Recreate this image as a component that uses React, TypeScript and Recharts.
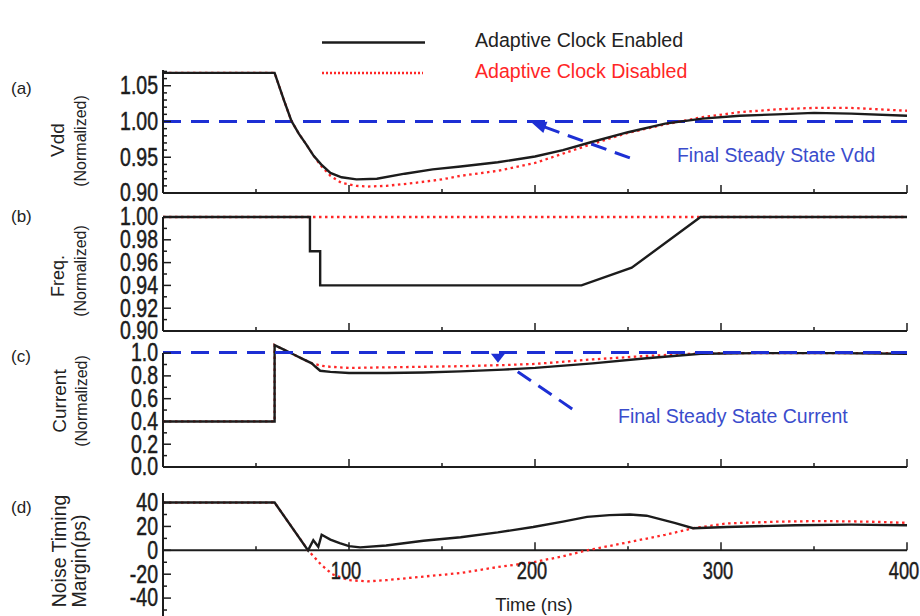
import React from "react";
import { LineChart, Line, XAxis, YAxis, ReferenceLine } from "recharts";

const INK = "#1c1c1c";
const RED = "#ff2626";
const BLUE = "#1d2fd4";
const NOTE = "#3a4ccc";
const FONT = "'Liberation Sans', Arial, sans-serif";

// shared time axis (ns)
const timeTicks = [50, 100, 150, 200, 250, 300, 350, 400];
const timeMajor = [100, 200, 300, 400];

// (a) Vdd (normalized)
const vddOnT = [0, 60, 65, 69, 73, 77, 81, 85, 90, 96, 104, 115, 130, 145, 160, 180, 200, 215, 230, 250, 270, 290, 310, 330, 350, 370, 400];
const vddOn = [1.068, 1.068, 1.03, 1.001, 0.983, 0.968, 0.952, 0.94, 0.928, 0.922, 0.919, 0.92, 0.927, 0.933, 0.937, 0.943, 0.951, 0.96, 0.971, 0.985, 0.997, 1.004, 1.008, 1.01, 1.012, 1.011, 1.008];
const vddOffT = [0, 60, 65, 69, 73, 77, 81, 85, 90, 96, 104, 110, 120, 135, 150, 160, 180, 200, 215, 230, 250, 270, 290, 310, 330, 350, 370, 400];
const vddOff = [1.068, 1.068, 1.03, 1.001, 0.983, 0.968, 0.952, 0.938, 0.924, 0.914, 0.91, 0.909, 0.91, 0.914, 0.919, 0.924, 0.931, 0.942, 0.955, 0.968, 0.984, 0.996, 1.006, 1.013, 1.017, 1.019, 1.019, 1.015];
const vddSteady = 1.0;
const vddArrowT = [251, 199];
const vddArrowV = [0.949, 0.998];
const vddMajor = [0.9, 0.95, 1.0, 1.05];
const vddMinor = [0.91, 0.92, 0.93, 0.94, 0.96, 0.97, 0.98, 0.99, 1.01, 1.02, 1.03, 1.04, 1.06, 1.07];

// (b) frequency (normalized)
const freqOnT = [0, 79, 79, 84.5, 84.5, 225, 252, 289, 400];
const freqOn = [1, 1, 0.97, 0.97, 0.94, 0.94, 0.9555, 1, 1];
const freqOffT = [0, 400];
const freqOff = [1, 1];
const freqMajor = [0.9, 0.92, 0.94, 0.96, 0.98, 1.0];
const freqMinor = [0.91, 0.93, 0.95, 0.97, 0.99];

// (c) current (normalized)
const curOnT = [0, 60, 60, 65, 70, 75, 80, 82, 84.5, 90, 100, 120, 140, 160, 183, 200, 231, 260, 289, 320, 360, 400];
const curOn = [0.4, 0.4, 1.07, 1.03, 0.99, 0.95, 0.91, 0.88, 0.845, 0.835, 0.825, 0.825, 0.83, 0.84, 0.855, 0.87, 0.91, 0.955, 0.995, 1.0, 1.0, 0.995];
const curOffT = [0, 60, 60, 65, 70, 75, 80, 85, 90, 100, 120, 140, 160, 183, 200, 231, 260, 289, 320, 360, 400];
const curOff = [0.4, 0.4, 1.07, 1.03, 0.99, 0.95, 0.91, 0.89, 0.88, 0.87, 0.875, 0.88, 0.885, 0.895, 0.905, 0.945, 0.975, 0.998, 1.0, 1.0, 1.0];
const curSteady = 1.005;
const curArrowT = [220, 186];
const curArrowV = [0.51, 0.89];
const curMajor = [0, 0.2, 0.4, 0.6, 0.8, 1.0];
const curMinor = [0.1, 0.3, 0.5, 0.7, 0.9];

// (d) noise timing margin (ps)
const nmOnT = [0, 60, 78, 80.8, 83.5, 85.3, 90, 95, 100, 106, 120, 140, 160, 180, 199, 215, 228, 240, 251, 260, 275, 285, 303, 340, 370, 400];
const nmOn = [40, 40, 0, 8.5, 3, 13, 9, 6, 3.5, 2.5, 4, 8, 11, 15, 19.5, 24, 28, 29.5, 30, 29, 23, 18.5, 19.5, 21, 21.5, 21];
const nmOffT = [0, 60, 78, 85, 91, 100, 110, 120, 140, 160, 180, 199, 215, 228, 251, 270, 285, 303, 330, 353, 380, 400];
const nmOff = [40, 40, 0, -12, -20, -25, -26, -25, -22, -19, -14, -10, -5, 0, 7, 13, 18.5, 22.5, 24, 24.5, 24, 23];
const nmMajor = [-40, -20, 0, 20, 40];
const nmMinor = [-50, -30, -10, 10, 30];

const zip = (t: number[], v: number[]) => t.map((x, i) => ({ t: x, v: v[i] }));

const PAD = 18;
const margin = { top: PAD, right: 13, bottom: PAD - 1, left: 162 };

const has = (list: number[], v: number) => list.some((m) => Math.abs(m - v) < 1e-9);

const tickText = { fontFamily: FONT, fill: INK, stroke: INK, strokeWidth: 0.5 };

const yTick = (major: number[], digits: number) => (p: any) => {
  const { x, y, payload } = p;
  const isMajor = has(major, payload.value);
  return (
    <g>
      <line x1={x} x2={x + (isMajor ? 8 : 4)} y1={y} y2={y} stroke={INK} strokeWidth={1.5} />
      {isMajor && (
        <text
          x={0}
          y={0}
          transform={`translate(${x - 5},${y}) scale(0.78,1)`}
          textAnchor="end"
          dominantBaseline="central"
          fontSize={25}
          {...tickText}
        >
          {payload.value.toFixed(digits)}
        </text>
      )}
    </g>
  );
};

const xTick = (baseY?: number, labels?: boolean) => (p: any) => {
  const { x, payload } = p;
  const y = baseY ?? p.y;
  const isMajor = has(timeMajor, payload.value);
  return (
    <g>
      <line x1={x} x2={x} y1={y} y2={y - (isMajor ? 8 : 4)} stroke={INK} strokeWidth={1.5} />
      {labels && isMajor && (
        <text
          x={0}
          y={0}
          transform={`translate(${x - 3},${y + 21}) scale(0.76,1)`}
          textAnchor="middle"
          dominantBaseline="central"
          fontSize={24}
          {...tickText}
        >
          {payload.value}
        </text>
      )}
    </g>
  );
};

const arrow = (head: "along" | "down") => (p: any) => {
  const { x1, y1, x2, y2 } = p;
  const dx = x2 - x1;
  const dy = y2 - y1;
  const len = Math.hypot(dx, dy) || 1;
  const ux = dx / len;
  const uy = dy / len;
  let pts: string;
  if (head === "along") {
    const bx = x2 - ux * 13;
    const by = y2 - uy * 13;
    pts = `${x2 + ux * 2},${y2 + uy * 2} ${bx - uy * 6},${by + ux * 6} ${bx + uy * 6},${by - ux * 6}`;
  } else {
    pts = `${x2 - 18},${y2 - 12} ${x2 - 4},${y2 - 12} ${x2 - 11},${y2 - 3}`;
  }
  return (
    <g>
      <line x1={x1} y1={y1} x2={x2 - ux * 8} y2={y2 - uy * 8} stroke={BLUE} strokeWidth={3} strokeDasharray="16 9" />
      <polygon points={pts} fill={BLUE} />
    </g>
  );
};

const xAxis = (baseY?: number, labels?: boolean, axisLine = true) => (
  <XAxis
    dataKey="t"
    type="number"
    domain={[0, 400]}
    ticks={timeTicks}
    interval={0}
    height={1}
    tickSize={0}
    tickMargin={0}
    tickLine={false}
    axisLine={axisLine ? { stroke: INK, strokeWidth: 2 } : false}
    tick={xTick(baseY, labels)}
  />
);

const yAxis = (domain: [number, number], major: number[], minor: number[], digits: number, axisLine = true) => (
  <YAxis
    type="number"
    domain={domain}
    ticks={[...major, ...minor].sort((a, b) => a - b)}
    interval={0}
    width={1}
    tickSize={0}
    tickMargin={0}
    tickLine={false}
    axisLine={axisLine ? { stroke: INK, strokeWidth: 2 } : false}
    tick={yTick(major, digits)}
  />
);

const seriesOff = (t: number[], v: number[]) => (
  <Line
    data={zip(t, v)}
    dataKey="v"
    type="linear"
    stroke={RED}
    strokeWidth={2.3}
    strokeDasharray="2.5 3.5"
    dot={false}
    isAnimationActive={false}
  />
);

const seriesOn = (t: number[], v: number[]) => (
  <Line data={zip(t, v)} dataKey="v" type="linear" stroke={INK} strokeWidth={2.4} dot={false} isAnimationActive={false} />
);

const Box = ({ top, children }: { top: number; children: React.ReactNode }) => (
  <div style={{ position: "absolute", left: 0, top: top - PAD }}>{children}</div>
);

const W = 920;
const A = { top: 70, bottom: 193, domain: [0.9, 1.072] as [number, number] };
const B = { top: 217, bottom: 331, domain: [0.9, 1.0] as [number, number] };
const C = { top: 344, bottom: 467, domain: [0, 1.08] as [number, number] };
const D = { top: 493, bottom: 616, domain: [-55, 48] as [number, number] };
const dZero = PAD + ((D.domain[1] - 0) / (D.domain[1] - D.domain[0])) * (D.bottom - D.top);

const txt = { fontFamily: FONT } as const;

export default function App() {
  return (
    <div style={{ position: "absolute", left: 0, top: 0, width: W, height: 616, overflow: "hidden", background: "#fff" }}>
      <Box top={A.top}>
        <LineChart width={W} height={A.bottom - A.top + 2 * PAD} margin={margin}>
          {xAxis()}
          {yAxis(A.domain, vddMajor, vddMinor, 2)}
          <ReferenceLine y={vddSteady} stroke={BLUE} strokeWidth={3} strokeDasharray="18 10" />
          {seriesOff(vddOffT, vddOff)}
          {seriesOn(vddOnT, vddOn)}
          <ReferenceLine
            segment={[
              { x: vddArrowT[0], y: vddArrowV[0] },
              { x: vddArrowT[1], y: vddArrowV[1] },
            ]}
            shape={arrow("along")}
          />
        </LineChart>
      </Box>

      <Box top={B.top}>
        <LineChart width={W} height={B.bottom - B.top + 2 * PAD} margin={margin}>
          {xAxis()}
          {yAxis(B.domain, freqMajor, freqMinor, 2)}
          {seriesOff(freqOffT, freqOff)}
          {seriesOn(freqOnT, freqOn)}
        </LineChart>
      </Box>

      <Box top={C.top}>
        <LineChart width={W} height={C.bottom - C.top + 2 * PAD} margin={margin}>
          {xAxis()}
          {yAxis(C.domain, curMajor, curMinor, 1, false)}
          <ReferenceLine
            segment={[
              { x: 0, y: 0 },
              { x: 0, y: 1 },
            ]}
            stroke={INK}
            strokeWidth={2}
          />
          {seriesOff(curOffT, curOff)}
          {seriesOn(curOnT, curOn)}
          <ReferenceLine y={curSteady} stroke={BLUE} strokeWidth={3} strokeDasharray="18 10" />
          <ReferenceLine
            segment={[
              { x: curArrowT[0], y: curArrowV[0] },
              { x: curArrowT[1], y: curArrowV[1] },
            ]}
            shape={arrow("down")}
          />
        </LineChart>
      </Box>

      <Box top={D.top}>
        <LineChart width={W} height={D.bottom - D.top + 2 * PAD} margin={margin}>
          {xAxis(dZero, true, false)}
          {yAxis(D.domain, nmMajor, nmMinor, 0)}
          <ReferenceLine y={0} stroke={INK} strokeWidth={2} />
          {seriesOff(nmOffT, nmOff)}
          {seriesOn(nmOnT, nmOn)}
        </LineChart>
      </Box>

      <svg width={W} height={616} style={{ position: "absolute", left: 0, top: 0, pointerEvents: "none" }}>
        {/* legend */}
        <line x1={322} x2={425} y1={42.5} y2={42.5} stroke={INK} strokeWidth={2.5} />
        <line x1={322} x2={423} y1={73} y2={73} stroke={RED} strokeWidth={2.5} strokeDasharray="2 2" />
        <text x={475} y={47} fontSize={19.6} fill="#222" {...txt}>Adaptive Clock Enabled</text>
        <text x={475} y={77.5} fontSize={19.6} fill={RED} {...txt}>Adaptive Clock Disabled</text>

        {/* notes */}
        <text x={677} y={162} fontSize={19.4} fill={NOTE} {...txt}>Final Steady State Vdd</text>
        <text x={618} y={423} fontSize={19.5} fill={NOTE} {...txt}>Final Steady State Current</text>

        {/* panel tags */}
        <text x={11} y={94} fontSize={17} fill="#222" {...txt}>(a)</text>
        <text x={11} y={222} fontSize={17} fill="#222" {...txt}>(b)</text>
        <text x={11} y={362} fontSize={17} fill="#222" {...txt}>(c)</text>
        <text x={11} y={513} fontSize={17} fill="#222" {...txt}>(d)</text>

        {/* axis titles */}
        <g fill="#222" {...txt} textAnchor="middle">
          <text transform="translate(64,140) rotate(-90)" fontSize={19}>Vdd</text>
          <text transform="translate(86,141) rotate(-90)" fontSize={16}>(Normalized)</text>
          <text transform="translate(64,276) rotate(-90)" fontSize={18}>Freq.</text>
          <text transform="translate(86,271) rotate(-90)" fontSize={16}>(Normalized)</text>
          <text transform="translate(66,401) rotate(-90)" fontSize={19}>Current</text>
          <text transform="translate(87,401) rotate(-90)" fontSize={16}>(Normalized)</text>
          <text transform="translate(66,551) rotate(-90)" fontSize={19.5}>Noise Timing</text>
          <text transform="translate(86,561) rotate(-90)" fontSize={19.5}>Margin(ps)</text>
          <text x={534} y={611} fontSize={18.5}>Time (ns)</text>
        </g>
      </svg>
    </div>
  );
}
